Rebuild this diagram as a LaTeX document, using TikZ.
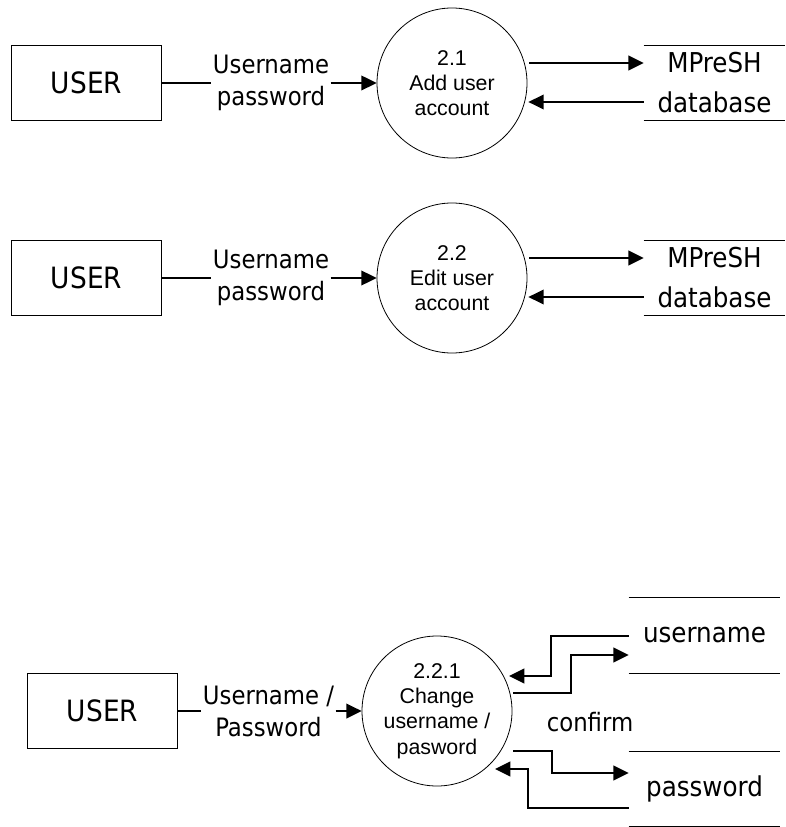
\documentclass[tikz,border=0pt]{standalone}
\usepackage{fontspec}
\setmainfont{Liberation Sans}
\newfontfamily\condfont{DejaVu Sans Condensed}
\usetikzlibrary{arrows.meta,calc}

\begin{document}
\begin{tikzpicture}[x=0.75pt,y=-0.75pt,
  entity/.style={draw,line width=0.75pt,minimum width=113pt,minimum height=56pt,font=\condfont\fontsize{22}{26}\selectfont},
  process/.style={draw,circle,line width=0.6pt,minimum size=112.5pt,inner sep=0pt,align=center,font=\fontsize{16}{19}\selectfont},
  store/.style={minimum height=56pt,inner sep=0pt,align=center,font=\condfont\fontsize{20.5}{30}\selectfont},
  flowlabel/.style={align=center,inner sep=1pt,font=\condfont\fontsize{19}{24}\selectfont},
  flow/.style={line width=1.5pt,-{Triangle[length=11.5pt,width=11pt]}},
  plain/.style={line width=1.5pt}]
\useasboundingbox (0,0) rectangle (785,827);
\node[entity] (user1) at (86.5,83) {USER};
\node[flowlabel] (l1) at (271,83) {Username\\password};
\node[process] (p1) at (452,83) {2.1\\Add user\\account};
\node[store,minimum width=105.75pt] (db1) at (714.5,83) {MPreSH\\database};
\draw[line width=0.75pt] (db1.north west) -- (db1.north east) (db1.south west) -- (db1.south east);
\draw[plain] (user1) -- (l1);
\draw[flow] (l1) -- (p1);
\draw[flow] ($(p1.east)+(2,-20)$) -- ($(db1.west)+(0,-20)$);
\draw[flow] ($(db1.west)+(0,19)$) -- ($(p1.east)+(1,19)$);
\node[entity] (user2) at (86.5,278) {USER};
\node[flowlabel] (l2) at (271,278) {Username\\password};
\node[process] (p2) at (452,278) {2.2\\Edit user\\account};
\node[store,minimum width=105.75pt] (db2) at (714.5,278) {MPreSH\\database};
\draw[line width=0.75pt] (db2.north west) -- (db2.north east) (db2.south west) -- (db2.south east);
\draw[plain] (user2) -- (l2);
\draw[flow] (l2) -- (p2);
\draw[flow] ($(p2.east)+(2,-20)$) -- ($(db2.west)+(0,-20)$);
\draw[flow] ($(db2.west)+(0,19)$) -- ($(p2.east)+(1,19)$);
\node[entity] (user3) at (102.5,711) {USER};
\node[flowlabel] (l3) at (268.5,711) {Username /\\Password};
\node[process] (p3) at (437,711) {2.2.1\\Change\\username /\\pasword};
\node[store,minimum width=113.25pt] (us) at (704.5,635.5) {username};
\node[store,minimum width=113.25pt] (ps) at (704.5,789) {password};
\node[flowlabel] (cf) at (590,722) {confirm};
\draw[line width=0.75pt] (us.north west) -- (us.north east) (us.south west) -- (us.south east);
\draw[line width=0.75pt] (ps.north west) -- (ps.north east) (ps.south west) -- (ps.south east);
\draw[plain] (user3) -- (l3);
\draw[flow] (l3) -- (p3);
\draw[flow] (us.west) -| ($(us.west)+(-78,40.5)$) -- ($(p3.center)+(72,-35)$);
\draw[flow] ($(p3.east)+(1,-18)$) -| ($(us.west)+(-58,19.5)$) -- ($(us.west)+(0,19.5)$);
\draw[flow] ($(p3.east)+(1,40)$) -| ($(ps.west)+(-77,-16)$) -- ($(ps.west)+(0,-16)$);
\draw[flow] ($(ps.west)+(0,19)$) -| ($(ps.west)+(-101,-20)$) -- ($(p3.center)+(58,58)$);
\end{tikzpicture}
\end{document}
